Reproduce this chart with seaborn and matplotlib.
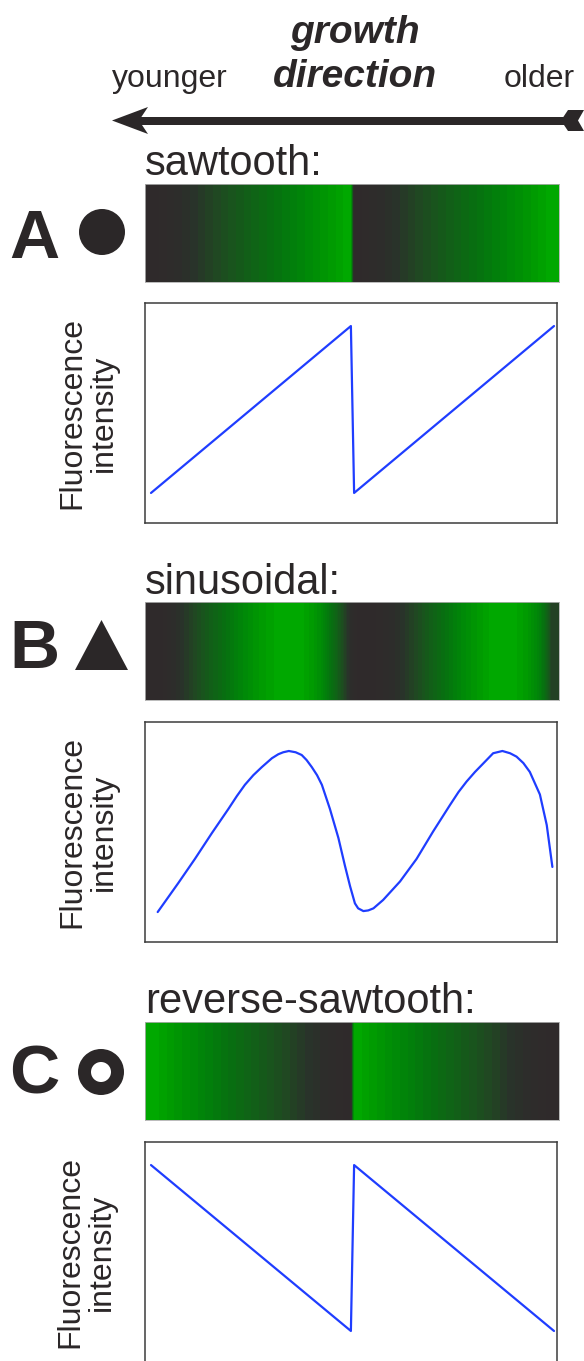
import numpy as np
import matplotlib
matplotlib.use("Agg")
import matplotlib.pyplot as plt
import seaborn as sns
from matplotlib.colors import LinearSegmentedColormap
from matplotlib.patches import Circle, Polygon, Annulus

sns.set_theme(style="white")
plt.rcParams['font.family'] = ['Liberation Sans', 'DejaVu Sans']

# Position along the growth axis (0 = younger end, 100 = older end)
# and relative fluorescence intensity for each banding model.
saw_pos = [0.0, 49.6, 50.4, 100.0]
saw_int = [0.0, 1.0, 0.0, 1.0]

sin_pos = [1.66, 6.77, 10.9, 15.1, 19.2, 21.3, 23.3, 25.4, 27.5, 30.0, 31.6, 32.8, 34.2,
           35.9, 37.4, 38.6, 39.9, 41.2, 42.4, 44.4, 46.5, 48.1, 49.4, 50.6, 51.4,
           52.7, 53.9, 55.2, 57.6, 61.8, 65.9, 70.0, 74.2, 76.3, 78.3, 80.4, 82.5, 84.9,
           87.2, 89.1, 90.7, 92.4, 94.0, 96.5, 98.2, 99.6]
sin_int = [0.00, 0.18, 0.33, 0.49, 0.64, 0.72, 0.79, 0.85, 0.90, 0.955, 0.98, 0.992, 1.00,
           0.992, 0.975, 0.944, 0.90, 0.85, 0.79, 0.64, 0.46, 0.29, 0.16, 0.054, 0.023,
           0.006, 0.010, 0.023, 0.075, 0.19, 0.33, 0.50, 0.665, 0.745, 0.81, 0.87, 0.924, 0.986,
           1.00, 0.986, 0.965, 0.925, 0.87, 0.73, 0.54, 0.28]

rev_pos = [0.0, 49.6, 50.4, 100.0]
rev_int = [1.0, 0.0, 1.0, 0.0]

panel_letters = ["A", "B", "C"]
panel_titles = ["sawtooth:", "sinusoidal:", "reverse-sawtooth:"]
profiles = [(saw_pos, saw_int), (sin_pos, sin_int), (rev_pos, rev_int)]

W, H = 584, 1361
TXT = "#2b2728"
LINE = "#1f3dff"

# band colours: dark (no label) -> bright green (strong label)
band_cmap = LinearSegmentedColormap.from_list(
    "band",
    [(0.0, "#2f2a2b"), (0.1, "#2e2c2b"), (0.2, "#29332a"), (0.33, "#1f4a21"),
     (0.48, "#125f18"), (0.63, "#06720f"), (0.78, "#008708"), (0.93, "#009c00"),
     (1.0, "#00a800")], N=26)

fig = plt.figure(figsize=(W / 100, H / 100), dpi=100)

# pixel-space overlay for the annotations
ov = fig.add_axes([0, 0, 1, 1])
ov.set_xlim(0, W)
ov.set_ylim(H, 0)
ov.axis("off")
ov.patch.set_alpha(0)


def frac(left, top, right, bottom):
    return [left / W, 1 - bottom / H, (right - left) / W, (bottom - top) / H]


# growth direction arrow
ov.add_patch(Polygon([(138, 116.5), (566, 116.5), (566, 124.5), (138, 124.5)],
                     closed=True, color=TXT, lw=0))
ov.add_patch(Polygon([(112, 120.5), (148, 107), (139, 120.5), (148, 134)],
                     closed=True, color=TXT, lw=0))
ov.add_patch(Polygon([(561, 120.5), (568, 110), (584, 110), (578, 120.5),
                      (584, 131), (568, 131)], closed=True, color=TXT, lw=0))

ov.text(355, 43, "growth", ha="center", va="baseline", fontsize=28,
        fontweight="bold", fontstyle="italic", color=TXT)
ov.text(355, 87, "direction", ha="center", va="baseline", fontsize=28,
        fontweight="bold", fontstyle="italic", color=TXT)
ov.text(112, 87, "younger", ha="left", va="baseline", fontsize=23, color=TXT)
ov.text(575, 87, "older", ha="right", va="baseline", fontsize=23, color=TXT)

# panel rows: (bar top, plot top, title baseline, letter baseline, ylabel centre x)
rows = [(184, 303, 175, 258, 88), (602, 722, 594, 668, 88), (1022, 1142, 1013, 1093, 86)]
ylims = [(-0.18, 1.138), (-0.186, 1.18), (-0.187, 1.139)]

x_lo = -6 / 4.03
x_hi = 100 + 3 / 4.03
bar_lo = (145 - 151) / 4.03
bar_hi = (559 - 151) / 4.03

for i, ((pos, inten), (bar_top, plot_top, t_base, l_base, lab_x)) in enumerate(zip(profiles, rows)):
    # intensity bar
    axb = fig.add_axes(frac(145, bar_top, 559, bar_top + 98))
    cols = np.linspace(bar_lo, bar_hi, 414)
    vals = np.interp(cols, pos, inten)[None, :]
    sns.heatmap(vals, ax=axb, cmap=band_cmap, vmin=0, vmax=1, cbar=False,
                xticklabels=False, yticklabels=False, rasterized=True)
    for s in axb.spines.values():
        s.set_visible(True)
        s.set_color("#b0b0b0")
        s.set_linewidth(0.6)

    # intensity profile
    axp = fig.add_axes(frac(145, plot_top, 557, plot_top + 220))
    sns.lineplot(x=pos, y=inten, ax=axp, color=LINE, linewidth=1.6,
                 sort=False, estimator=None, solid_joinstyle="round")
    axp.set_xlim(x_lo, x_hi)
    axp.set_ylim(*ylims[i])
    axp.set_xticks([])
    axp.set_yticks([])
    axp.set_xlabel("")
    axp.set_ylabel("")
    for s in axp.spines.values():
        s.set_visible(True)
        s.set_color("#3c3c3c")
        s.set_linewidth(1.1)

    ov.text(lab_x, plot_top + 110, "Fluorescence\nintensity", rotation=90,
            ha="center", va="center", multialignment="center", fontsize=23,
            linespacing=1.05, color=TXT)

    ov.text(145, t_base, panel_titles[i], ha="left", va="baseline",
            fontsize=30, color=TXT)
    ov.text(9, l_base, panel_letters[i], ha="left", va="baseline",
            fontsize=50, fontweight="bold", color=TXT)

# panel symbols
ov.add_patch(Circle((102, 232), 23, color=TXT, lw=0))
ov.add_patch(Polygon([(75, 670), (128, 670), (101.5, 620)], closed=True, color=TXT, lw=0))
ov.add_patch(Annulus((101, 1072), (23, 23), 13, color=TXT, lw=0))

fig.savefig("out.png", dpi=100)
